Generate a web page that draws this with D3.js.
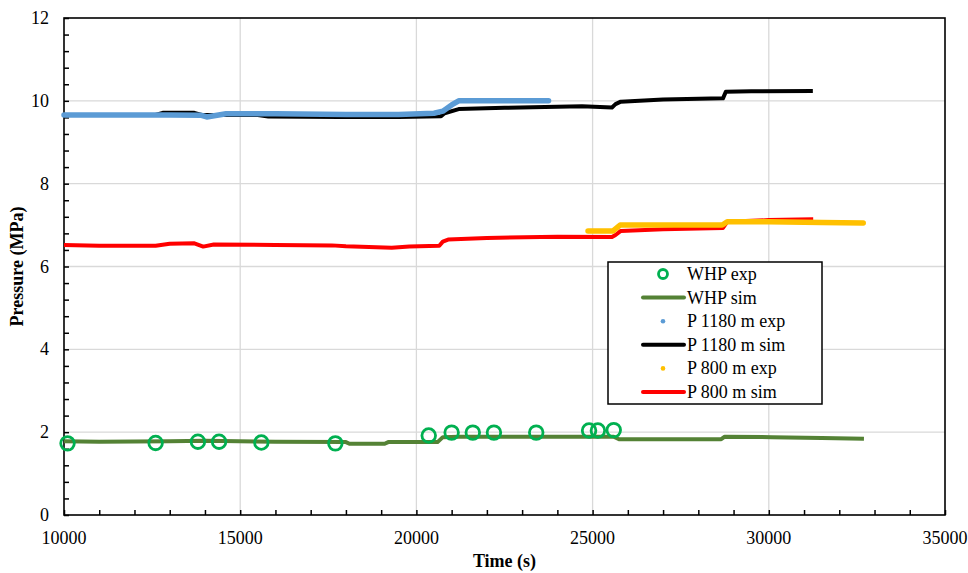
<!DOCTYPE html>
<html><head><meta charset="utf-8">
<script src="https://cdn.jsdelivr.net/npm/d3@7"></script>
<style>body{margin:0;background:#fff}svg{display:block}</style>
</head><body><svg id="c" width="968" height="573" font-family="'Liberation Serif', 'Times New Roman', Times, 'DejaVu Serif', serif"></svg>
<script>
// ---- data ----
const xTicks = [10000,15000,20000,25000,30000,35000];
const yTicks = [0,2,4,6,8,10,12];
const whpExpT = [10100,12600,13800,14400,15600,17700,20350,21000,21600,22200,23400,24900,25150,25600];
const whpExpV = [1.73,1.74,1.77,1.77,1.75,1.73,1.92,1.99,1.99,1.99,1.99,2.04,2.04,2.05];
const whpSimT = [10000,11000,13000,14000,16000,18000,18100,19100,19200,20600,20750,21200,25600,25750,28650,28750,30100,31500,32700];
const whpSimV = [1.78,1.77,1.78,1.79,1.77,1.76,1.72,1.72,1.76,1.76,1.88,1.89,1.89,1.83,1.83,1.89,1.88,1.86,1.84];
const p1180ExpT = [10000,11500,13000,13900,14050,14600,16000,18000,19500,20500,20750,21000,21200,22500,23750];
const p1180ExpV = [9.66,9.66,9.66,9.65,9.61,9.69,9.69,9.67,9.67,9.70,9.75,9.90,10.0,10.0,10.0];
const p1180SimT = [10000,12600,12800,13700,13900,15500,15800,17800,19500,20700,20800,21200,22500,24700,25550,25650,25800,27000,28700,28780,29500,31250];
const p1180SimV = [9.66,9.66,9.71,9.71,9.66,9.66,9.62,9.61,9.61,9.63,9.70,9.80,9.83,9.87,9.84,9.92,9.98,10.03,10.06,10.22,10.23,10.24];
const p800ExpT = [24870,25580,25780,27000,28680,28820,30000,31500,32680];
const p800ExpV = [6.86,6.86,7.00,7.00,7.00,7.08,7.08,7.06,7.05];
const p800SimT = [10000,11000,12600,13000,13700,13950,14250,16000,17600,18000,19300,19800,20650,20750,20900,22000,24000,25550,25650,25800,27000,28700,28820,30000,31260];
const p800SimV = [6.52,6.50,6.50,6.55,6.56,6.48,6.53,6.52,6.51,6.49,6.45,6.48,6.50,6.60,6.65,6.69,6.72,6.71,6.76,6.86,6.90,6.93,7.08,7.12,7.14];
const legendLabels = ["WHP exp","WHP sim","P 1180 m exp","P 1180 m sim","P 800 m exp","P 800 m sim"];

// ---- layout ----
const L=64,R=945,T=18,B=515;
const FONT="'Liberation Serif', 'Times New Roman', Times, 'DejaVu Serif', serif";
const svg=d3.select("#c");
const x=d3.scaleLinear().domain([10000,35000]).range([L,R]);
const y=d3.scaleLinear().domain([0,12]).range([B,T]);
const zip=(a,b)=>a.map((t,i)=>[t,b[i]]);

// grid
svg.append("g").selectAll("line").data(xTicks.slice(1,-1)).join("line")
 .attr("x1",d=>x(d)).attr("x2",d=>x(d)).attr("y1",T).attr("y2",B).attr("stroke","#d9d9d9").attr("stroke-width",1.3);
svg.append("g").selectAll("line").data(yTicks.slice(1,-1)).join("line")
 .attr("y1",d=>y(d)).attr("y2",d=>y(d)).attr("x1",L).attr("x2",R).attr("stroke","#d9d9d9").attr("stroke-width",1.3);

// axes with inward minor ticks
const xa=d3.axisBottom(x).tickValues(d3.range(10000,35001,1000)).tickSize(-5).tickFormat("");
svg.append("g").attr("transform",`translate(0,${B})`).call(xa).call(g=>{g.select(".domain").remove();g.selectAll("line").attr("stroke","#000").attr("stroke-width",1.5);});
const ya=d3.axisLeft(y).tickValues(d3.range(0,12.01,0.4)).tickSize(-5).tickFormat("");
svg.append("g").attr("transform",`translate(${L},0)`).call(ya).call(g=>{g.select(".domain").remove();g.selectAll("line").attr("stroke","#000").attr("stroke-width",1.5);});
svg.append("rect").attr("x",L).attr("y",T).attr("width",R-L).attr("height",B-T).attr("fill","none").attr("stroke","#000").attr("stroke-width",1.6);

// tick labels
svg.append("g").selectAll("text").data(xTicks).join("text").attr("font-family",FONT)
 .attr("x",d=>x(d)).attr("y",544).attr("text-anchor","middle").attr("font-size",18).text(d=>d);
svg.append("g").selectAll("text").data(yTicks).join("text").attr("font-family",FONT)
 .attr("x",49).attr("y",d=>y(d)+6).attr("text-anchor","end").attr("font-size",18).text(d=>d);

// titles
svg.append("text").attr("font-family",FONT).attr("x",(L+R)/2).attr("y",567).attr("text-anchor","middle").attr("font-size",18).attr("font-weight","bold").text("Time (s)");
svg.append("text").attr("font-family",FONT).attr("transform",`translate(23,${(T+B)/2}) rotate(-90)`).attr("text-anchor","middle").attr("font-size",18).attr("font-weight","bold").text("Pressure (MPa)");

// series
const line=d3.line().x(d=>x(d[0])).y(d=>y(d[1]));
const g=svg.append("g");
g.append("path").datum(zip(p800SimT,p800SimV)).attr("d",line).attr("fill","none").attr("stroke","#ff0000").attr("stroke-width",4).attr("stroke-linejoin","round");
g.append("path").datum(zip(p800ExpT,p800ExpV)).attr("d",line).attr("fill","none").attr("stroke","#ffc000").attr("stroke-width",5.5).attr("stroke-linecap","round").attr("stroke-linejoin","round");
g.append("path").datum(zip(p1180SimT,p1180SimV)).attr("d",line).attr("fill","none").attr("stroke","#000").attr("stroke-width",4).attr("stroke-linejoin","round");
g.append("path").datum(zip(p1180ExpT,p1180ExpV)).attr("d",line).attr("fill","none").attr("stroke","#5b9bd5").attr("stroke-width",5.5).attr("stroke-linecap","round").attr("stroke-linejoin","round");
g.append("path").datum(zip(whpSimT,whpSimV)).attr("d",line).attr("fill","none").attr("stroke","#548235").attr("stroke-width",4).attr("stroke-linejoin","round");
g.append("g").selectAll("circle").data(zip(whpExpT,whpExpV)).join("circle")
 .attr("cx",d=>x(d[0])).attr("cy",d=>y(d[1])).attr("r",6.8).attr("fill","none").attr("stroke","#00b050").attr("stroke-width",2.8);

// legend
const lg=svg.append("g");
lg.append("rect").attr("x",608).attr("y",262).attr("width",214).attr("height",142).attr("fill","#fff").attr("stroke","#000").attr("stroke-width",1.5);
const rowY=i=>274+i*23.6;
const kinds=[["circle","#00b050"],["line","#548235"],["dot","#5b9bd5"],["line","#000"],["dot","#ffc000"],["line","#ff0000"]];
kinds.forEach((k,i)=>{
 const cy=rowY(i);
 if(k[0]==="circle") lg.append("circle").attr("cx",663).attr("cy",cy).attr("r",4.5).attr("fill","none").attr("stroke",k[1]).attr("stroke-width",2.8);
 else if(k[0]==="dot") lg.append("circle").attr("cx",663).attr("cy",cy).attr("r",2.3).attr("fill",k[1]);
 else lg.append("line").attr("x1",643).attr("x2",684).attr("y1",cy).attr("y2",cy).attr("stroke",k[1]).attr("stroke-width",4).attr("stroke-linecap","round");
 lg.append("text").attr("font-family",FONT).attr("x",687).attr("y",cy+6).attr("font-size",18).text(legendLabels[i]);
});
</script></body></html>
